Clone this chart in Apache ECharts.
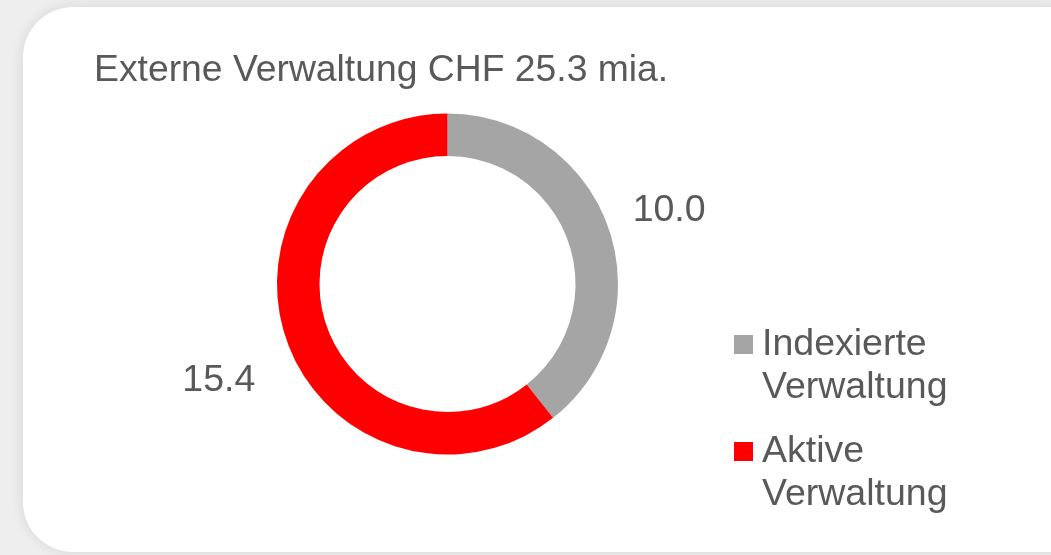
<!DOCTYPE html>
<html>
<head>
<meta charset="utf-8">
<script src="https://cdn.jsdelivr.net/npm/echarts@6/dist/echarts.min.js"></script>
<style>
  html, body { margin: 0; padding: 0; width: 1051px; height: 555px; overflow: hidden; background: #eeeeee; }
  .card {
    position: absolute; left: 23px; top: 7px; width: 1080px; height: 545px;
    background: #fff; border-radius: 50px;
    box-shadow: 0 0 14px rgba(0,0,0,0.10);
  }
  #chart { position: absolute; left: 0; top: 0; width: 1051px; height: 555px; }
</style>
</head>
<body>
<div class="card"></div>
<div id="chart"></div>
<script>
  // Daten (CHF mia.)
  const titleText = 'Externe Verwaltung CHF 25.3 mia.';
  const categories = ['Indexierte\nVerwaltung', 'Aktive\nVerwaltung'];
  const values = [10.0, 15.4];
  const colors = ['#a5a5a5', '#ff0000'];

  // label placement per slice (radial length, horizontal length)
  const labelLines = [
    { length: 53, length2: -31 },
    { length: 124, length2: -91 }
  ];

  const textColor = '#595959';
  const font = 'Liberation Sans, Arial, sans-serif';

  const chart = echarts.init(document.getElementById('chart'));

  const option = {
    backgroundColor: 'transparent',
    animation: false,
    title: {
      text: titleText,
      left: 94,
      top: 52,
      padding: 0,
      textStyle: { color: textColor, fontSize: 37.3, fontWeight: 'normal', fontFamily: font }
    },
    legend: {
      orient: 'vertical',
      left: 734,
      top: 280,
      padding: 0,
      itemWidth: 23,
      itemHeight: 19,
      itemGap: -22,
      // square icon with some empty room on its right
      icon: 'path://M0,0H19V19H0Z M23,0L23,0.01',
      selectedMode: false,
      data: categories,
      // empty first line keeps the first text line level with the icon
      formatter: name => '\n' + name,
      textStyle: {
        color: textColor, fontSize: 37.5, fontFamily: font, lineHeight: 43
      }
    },
    series: [
      {
        type: 'pie',
        center: [447.5, 284],
        radius: [128, 170.5],
        startAngle: 90,
        clockwise: true,
        avoidLabelOverlap: false,
        label: {
          show: true,
          position: 'outside',
          color: textColor,
          fontSize: 37.5,
          fontFamily: font,
          formatter: p => p.value.toFixed(1)
        },
        labelLine: { show: false },
        emphasis: { disabled: true },
        data: categories.map((name, i) => ({
          name: name,
          value: values[i],
          itemStyle: { color: colors[i] },
          labelLine: { show: false, length: labelLines[i].length, length2: labelLines[i].length2 }
        }))
      }
    ]
  };

  chart.setOption(option);
</script>
</body>
</html>
